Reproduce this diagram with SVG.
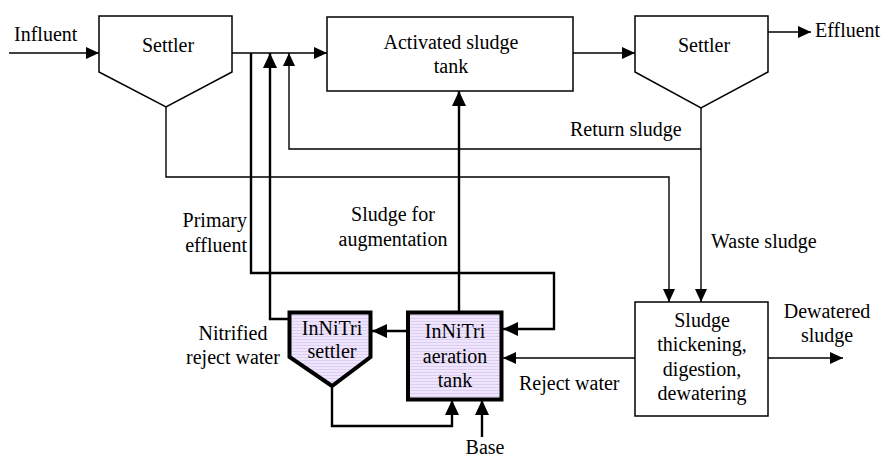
<svg xmlns="http://www.w3.org/2000/svg" width="884" height="457" viewBox="0 0 884 457">
<style>
.t{font-family:"Liberation Serif","Times New Roman",serif;font-size:20px;fill:#000}
.m{text-anchor:middle}
.e{text-anchor:end}
.box{fill:#fff;stroke:#000;stroke-width:1.5}
.ibox{fill:url(#stripes);stroke:#000;stroke-width:4;stroke-linejoin:miter}
.thin{fill:none;stroke:#000;stroke-width:1.4}
.thick{fill:none;stroke:#000;stroke-width:2.4}
.a1{marker-end:url(#arr)}
.a2{marker-end:url(#arrT)}
</style>
<defs>
<marker id="arr" markerUnits="userSpaceOnUse" markerWidth="14" markerHeight="13" refX="13" refY="6" orient="auto" overflow="visible">
<path d="M0,0 L13,6 L0,12 z" fill="#000"/>
</marker>
<marker id="arrT" markerUnits="userSpaceOnUse" markerWidth="16" markerHeight="15" refX="15" refY="7" orient="auto" overflow="visible">
<path d="M0,0 L15,7 L0,14 z" fill="#000"/>
</marker>
<pattern id="stripes" patternUnits="userSpaceOnUse" width="4" height="3">
<rect width="4" height="3" fill="#efe5fc"/>
<rect width="4" height="1" fill="#dccdf2"/>
</pattern>
</defs>

<g id="connectors">
<path class="thin a1" d="M9,53 H99"/>
<path class="thin a1" d="M232,53 H327"/>
<path class="thin a1" d="M573,53 H635"/>
<path class="thin a1" d="M768,32 H811"/>
<path class="thin a1" d="M166,107 V177 H669 V302"/>
<path class="thin a1" d="M701,108 V302"/>
<path class="thin a1" d="M701,149 H289 V53"/>
<path class="thick a2" d="M251,53 V273 H554 V329 H503"/>
<path class="thick a2" d="M288,319 H270 V53"/>
<path class="thick a2" d="M459,311 V91"/>
<path class="thick a2" d="M407,331 H372"/>
<path class="thick a2" d="M332,387 V426 H452 V400"/>
<path class="thick a2" d="M482,437 V400"/>
<path class="thin a1" d="M635,358 H503"/>
<path class="thin a1" d="M768,358 H843"/>
</g>

<g class="t" font-family="Liberation Serif" font-size="20">
<g id="settler1">
<polygon class="box" points="99,16 232,16 232,72 166,107 99,72"/>
<text class="t m" x="168" y="52">Settler</text>
</g>
<g id="activated-sludge-tank">
<rect class="box" x="327" y="17" width="246" height="74"/>
<text class="t m" x="451" y="49">Activated sludge</text>
<text class="t m" x="451" y="73">tank</text>
</g>
<g id="settler2">
<polygon class="box" points="635,16 768,16 768,72 701,108 635,72"/>
<text class="t m" x="704" y="52">Settler</text>
</g>
<g id="innitri-settler">
<polygon class="ibox" points="289.5,312.5 370.5,312.5 370.5,357 332,386 289.5,357"/>
<text class="t m" x="332" y="335">InNiTri</text>
<text class="t m" x="332" y="358">settler</text>
</g>
<g id="innitri-aeration">
<rect class="ibox" x="408" y="312.5" width="93.5" height="87"/>
<text class="t m" x="455" y="338">InNiTri</text>
<text class="t m" x="455" y="363">aeration</text>
<text class="t m" x="455" y="387">tank</text>
</g>
<g id="sludge-treatment">
<rect class="box" x="635" y="302" width="133" height="114"/>
<text class="t m" x="702" y="327">Sludge</text>
<text class="t m" x="702" y="351">thickening,</text>
<text class="t m" x="702" y="376">digestion,</text>
<text class="t m" x="702" y="400">dewatering</text>
</g>

<g id="labels">
<text class="t" x="14" y="41">Influent</text>
<text class="t" x="815" y="37">Effluent</text>
<text class="t" x="570" y="136">Return sludge</text>
<text class="t e" x="247" y="227">Primary</text>
<text class="t e" x="247" y="252">effluent</text>
<text class="t m" x="393" y="221">Sludge for</text>
<text class="t m" x="393" y="246">augmentation</text>
<text class="t" x="711" y="248">Waste sludge</text>
<text class="t m" x="233" y="340">Nitrified</text>
<text class="t m" x="233" y="364">reject water</text>
<text class="t m" x="827" y="318">Dewatered</text>
<text class="t m" x="827" y="342">sludge</text>
<text class="t" x="519" y="390">Reject water</text>
<text class="t m" x="485" y="454">Base</text>
</g>
</g>
</svg>
